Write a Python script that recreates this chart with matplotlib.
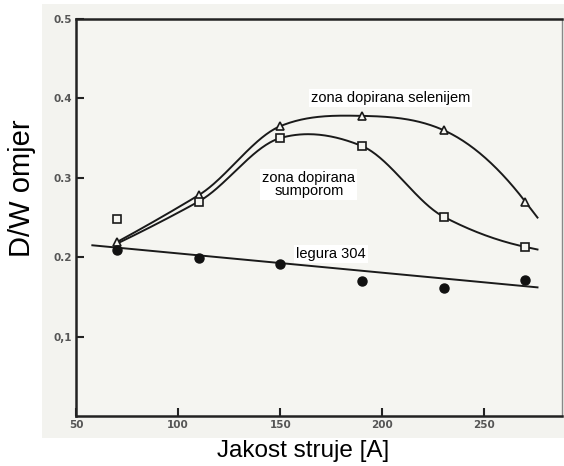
import matplotlib
matplotlib.use("Agg")
import matplotlib.pyplot as plt
import numpy as np
from matplotlib.patches import Rectangle

# struja [A]
struja = [70, 110, 150, 190, 230, 270]

# zona dopirana selenijem (trokuti)
selen = [0.219, 0.278, 0.365, 0.378, 0.360, 0.270]

# zona dopirana sumporom (kvadrati); krivulja krece od 0.217 pri 70 A
sumpor_krivulja = [0.217, 0.270, 0.350, 0.340, 0.251, 0.213]
sumpor_x = [70, 110, 150, 190, 230, 270]
sumpor_y = [0.248, 0.270, 0.350, 0.340, 0.251, 0.213]

# legura 304 (puni krugovi) i ucrtani pravac
legura = [0.209, 0.199, 0.191, 0.170, 0.161, 0.171]
legura_pravac_x = [58, 276]
legura_pravac_y = [0.215, 0.162]

X_END = 276


def cardinal(x, y, xs, tension=0.15):
    # Hermiteova krivulja s tangentama kardinalnog splinea
    x = np.asarray(x, float)
    y = np.asarray(y, float)
    n = len(x)
    m = np.zeros(n)
    for i in range(1, n - 1):
        m[i] = (1 - tension) * (y[i + 1] - y[i - 1]) / (x[i + 1] - x[i - 1])
    m[0] = 2 * (y[1] - y[0]) / (x[1] - x[0]) - m[1]
    m[-1] = 2 * (y[-1] - y[-2]) / (x[-1] - x[-2]) - m[-2]
    out = np.empty_like(xs)
    for k, xv in enumerate(xs):
        if xv >= x[-1]:
            out[k] = y[-1] + m[-1] * (xv - x[-1])
            continue
        i = min(max(np.searchsorted(x, xv) - 1, 0), n - 2)
        h = x[i + 1] - x[i]
        t = (xv - x[i]) / h
        h00 = 2 * t**3 - 3 * t**2 + 1
        h10 = t**3 - 2 * t**2 + t
        h01 = -2 * t**3 + 3 * t**2
        h11 = t**3 - t**2
        out[k] = h00 * y[i] + h10 * h * m[i] + h01 * y[i + 1] + h11 * h * m[i + 1]
    return out


fig = plt.figure(figsize=(5.64, 4.66), dpi=100)
fig.patches.append(Rectangle((42 / 564, 1 - 438 / 466), (564 - 42) / 564, (438 - 4) / 466,
                             transform=fig.transFigure, facecolor="#f3f3ef",
                             edgecolor="none", zorder=-10))
ax = fig.add_axes([76 / 564, 1 - 416 / 466, (562 - 76) / 564, (416 - 19) / 466])
ax.set_facecolor("#f5f5f1")

xs = np.linspace(70, X_END, 300)
ax.plot(xs, cardinal(struja, selen, xs), color="#1a1a1a", lw=1.4)
ax.plot(xs, cardinal(struja, sumpor_krivulja, xs), color="#1a1a1a", lw=1.4)
ax.plot(legura_pravac_x, legura_pravac_y, color="#1a1a1a", lw=1.4)

ax.plot(struja, selen, ls="none", marker="^", ms=6, mfc="#f5f5f1", mec="#1a1a1a", mew=1.2)
ax.plot(sumpor_x, sumpor_y, ls="none", marker="s", ms=6, mfc="#f5f5f1", mec="#1a1a1a", mew=1.2)
ax.plot(struja, legura, ls="none", marker="o", ms=6.5, color="#111111")

ax.set_xlim(50, 288)
ax.set_ylim(0, 0.5)
ax.set_xticks([50, 100, 150, 200, 250])
ax.set_xticklabels(["50", "100", "150", "200", "250"])
ax.set_yticks([0.1, 0.2, 0.3, 0.4, 0.5])
ax.set_yticklabels(["0,1", "0.2", "0.3", "0.4", "0.5"])
ax.tick_params(direction="in", length=6, width=1.5, color="#222222",
               labelsize=7.5, labelcolor="#555555", pad=3)
for lab in ax.get_xticklabels() + ax.get_yticklabels():
    lab.set_fontweight("bold")
for side in ["left", "bottom", "top"]:
    ax.spines[side].set_linewidth(1.8)
    ax.spines[side].set_color("#222222")
ax.spines["right"].set_linewidth(1.0)
ax.spines["right"].set_color("#888888")

box = dict(facecolor="white", edgecolor="none", pad=1.5)
lbl = dict(fontsize=10.5, ha="center", va="center", family="Liberation Sans", bbox=box)
ax.text(204, 0.401, "zona dopirana selenijem", **lbl)
ax.text(164, 0.291, "zona dopirana\nsumporom", linespacing=0.9, **lbl)
ax.text(175, 0.204, "legura 304", **lbl)

fig.text(303 / 564, 1 - 451 / 466, "Jakost struje [A]", fontsize=17.5, ha="center", va="center",
         family="Liberation Sans")
fig.text(22 / 564, 1 - 188 / 466, "D/W omjer", fontsize=21, ha="center", va="center",
         rotation=90, family="Liberation Sans")

fig.savefig("out.png", dpi=100)
